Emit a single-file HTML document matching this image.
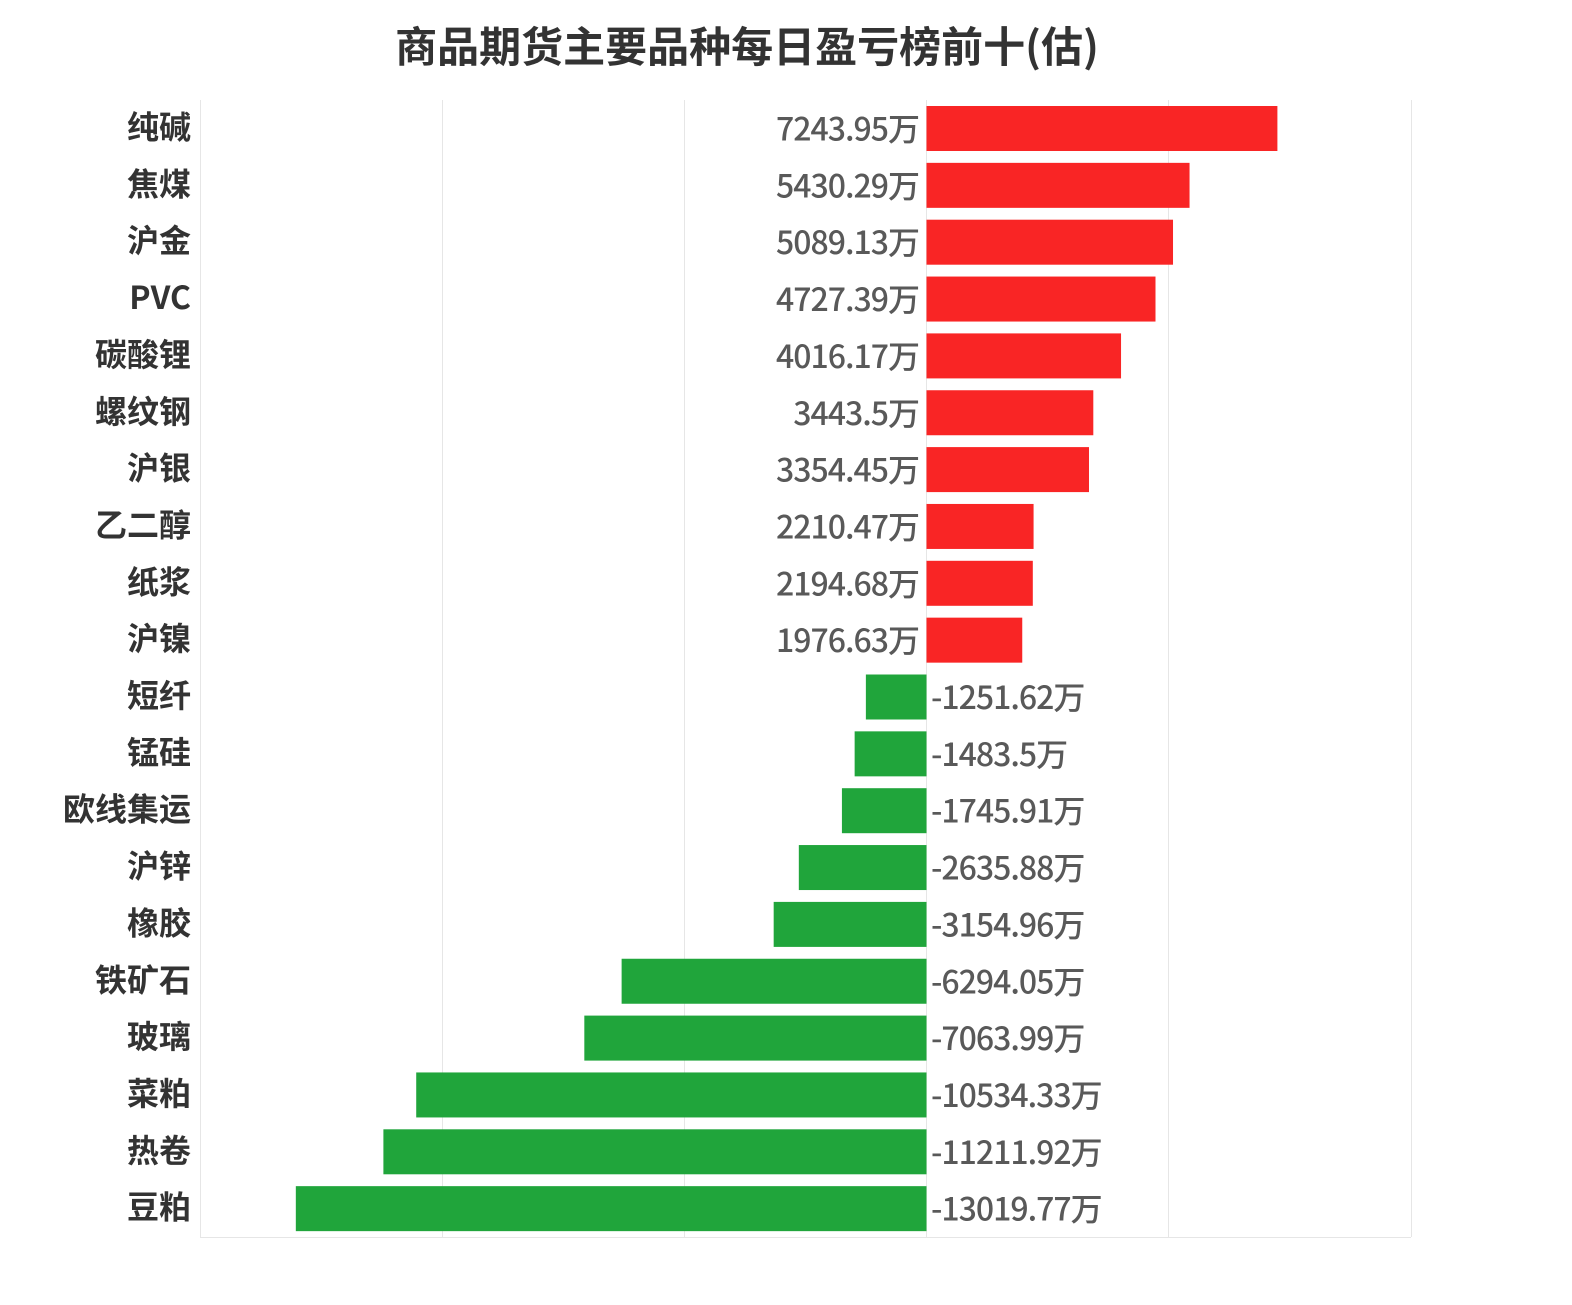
<!DOCTYPE html>
<html><head><meta charset="utf-8"><style>
html,body{margin:0;padding:0;background:#fff;}
svg text{font-family:"Liberation Sans","Noto Sans CJK SC",sans-serif;}
</style></head><body>
<svg width="1572" height="1300" xmlns="http://www.w3.org/2000/svg">
<rect width="1572" height="1300" fill="#fff"/>
<text x="747" y="62" text-anchor="middle" font-size="42" font-weight="bold" fill="#333" style="font-family:'Noto Sans CJK SC',sans-serif">商品期货主要品种每日盈亏榜前十(估)</text>
<g stroke="#e6e6e6" stroke-width="1">
<line x1="200.5" y1="100" x2="200.5" y2="1237"/>
<line x1="442.5" y1="100" x2="442.5" y2="1237"/>
<line x1="684.5" y1="100" x2="684.5" y2="1237"/>
<line x1="926.5" y1="100" x2="926.5" y2="1237"/>
<line x1="1168.5" y1="100" x2="1168.5" y2="1237"/>
<line x1="1411.5" y1="100" x2="1411.5" y2="1237"/>
<line x1="200" y1="1237.5" x2="1411" y2="1237.5"/>
</g>
<g id="bars"></g>
</svg>
<script>
var d=[["纯碱",7243.95],["焦煤",5430.29],["沪金",5089.13],["PVC",4727.39],["碳酸锂",4016.17],["螺纹钢",3443.5],["沪银",3354.45],["乙二醇",2210.47],["纸浆",2194.68],["沪镍",1976.63],["短纤",-1251.62],["锰硅",-1483.5],["欧线集运",-1745.91],["沪锌",-2635.88],["橡胶",-3154.96],["铁矿石",-6294.05],["玻璃",-7063.99],["菜粕",-10534.33],["热卷",-11211.92],["豆粕",-13019.77]];
var g=document.getElementById('bars'),s='',k=242.2/5000,z=926.5;
d.forEach(function(r,i){
 var y=106+i*56.85,w=Math.abs(r[1])*k,cy=y+22.5;
 var ff="'Noto Sans CJK SC',sans-serif";
 if(r[1]>0){
  s+='<rect x="'+z+'" y="'+y+'" width="'+w+'" height="45" fill="#f92525"/>';
  s+='<text x="919" y="'+(cy+12)+'" text-anchor="end" font-size="32" font-weight="500" fill="#595959" style="font-family:'+ff+';letter-spacing:-1px">'+r[1]+'万</text>';
 } else {
  s+='<rect x="'+(z-w)+'" y="'+y+'" width="'+w+'" height="45" fill="#20a53b"/>';
  s+='<text x="931" y="'+(cy+12)+'" text-anchor="start" font-size="32" font-weight="500" fill="#595959" style="font-family:'+ff+';letter-spacing:-1px">'+r[1]+'万</text>';
 }
 s+='<text x="191" y="'+(cy+10)+'" text-anchor="end" font-size="32" font-weight="bold" fill="#333" style="font-family:'+ff+'">'+r[0]+'</text>';
});
g.innerHTML=s;
</script>
</body></html>
